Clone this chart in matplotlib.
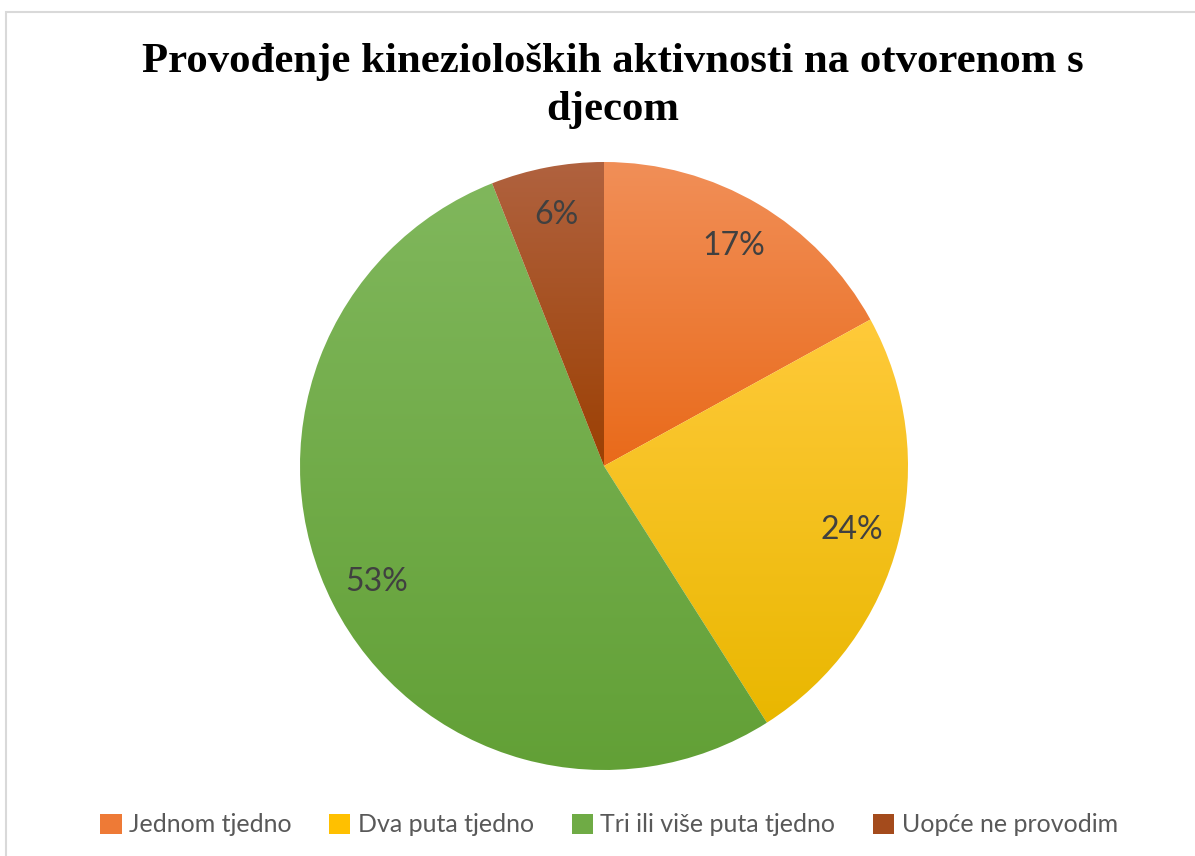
import numpy as np
import matplotlib
matplotlib.use("Agg")
import matplotlib.pyplot as plt
from matplotlib.colors import LinearSegmentedColormap
from matplotlib.patches import Rectangle

# ---- data ----
categories = ["Jednom tjedno", "Dva puta tjedno", "Tri ili više puta tjedno", "Uopće ne provodim"]
values = [17, 24, 53, 6]
title = "Provođenje kinezioloških aktivnosti na otvorenom s\ndjecom"

# gradient colours (top, bottom) per slice
top_colors = ["#F18F58", "#FFCA3A", "#80B75C", "#B0623F"]
bottom_colors = ["#E96A1A", "#E9B700", "#62A036", "#9C4003"]
legend_colors = ["#EE7A36", "#FFC000", "#6FAB45", "#A44B1C"]

W, H = 1195, 856
fig = plt.figure(figsize=(W / 100, H / 100), dpi=100)
fig.patch.set_facecolor("white")

# outer chart border
fig.add_artist(Rectangle((6 / W, -0.05), 1.2, (H - 12) / H + 0.05, transform=fig.transFigure,
                         fill=False, edgecolor="#D9D9D9", linewidth=1.5))

cx, cy, r = 604, 466, 304
ax = fig.add_axes([(cx - r) / W, (H - cy - r) / H, 2 * r / W, 2 * r / H])
wedges, texts, autotexts = ax.pie(values, startangle=90, counterclock=False, radius=1,
                                  autopct="%1.0f%%", pctdistance=0.84,
                                  wedgeprops=dict(linewidth=0),
                                  textprops=dict(fontsize=23, color="#404040", family="Lato"))
ax.set_xlim(-1, 1)
ax.set_ylim(-1, 1)
ax.set_aspect("equal")
ax.axis("off")

for w, tc, bc in zip(wedges, top_colors, bottom_colors):
    path = w.get_path()
    verts = w.get_transform().transform(path.vertices)
    verts = ax.transData.inverted().transform(verts)
    x0, x1 = verts[:, 0].min(), verts[:, 0].max()
    y0, y1 = verts[:, 1].min(), verts[:, 1].max()
    cmap = LinearSegmentedColormap.from_list("g", [tc, bc])
    grad = np.linspace(0, 1, 256).reshape(-1, 1)
    im = ax.imshow(grad, cmap=cmap, extent=(x0, x1, y0, y1), origin="upper",
                   aspect="auto", zorder=w.get_zorder(), interpolation="bilinear")
    im.set_clip_path(w)
    w.set_facecolor("none")
for t in autotexts:
    t.set_zorder(5)
ax.set_xlim(-1, 1)
ax.set_ylim(-1, 1)

fig.text(613 / W, 1 - 43 / H, title, ha="center", va="top", family="Liberation Serif",
         fontweight="bold", fontsize=30.8, linespacing=1.33, color="black")

handles = [Rectangle((0, 0), 1, 1, facecolor=c, edgecolor="none") for c in legend_colors]
leg = fig.legend(handles, categories, loc="center", bbox_to_anchor=(609 / W, 1 - 825 / H),
                 ncol=4, frameon=False, handlelength=0.85, handleheight=0.85, handletextpad=0.3,
                 columnspacing=1.5, prop=dict(family="Lato", size=18))
for t in leg.get_texts():
    t.set_color("#595959")

fig.savefig("out.png", dpi=100, facecolor="white")
